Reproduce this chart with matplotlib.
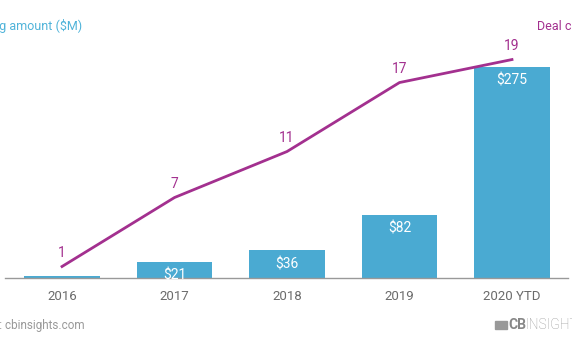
import matplotlib
matplotlib.use("Agg")
import matplotlib.pyplot as plt
from matplotlib.patches import Rectangle

categories = ["2016", "2017", "2018", "2019", "2020 YTD"]
funding = [3, 21, 36, 82, 275]
funding_labels = ["", "$21", "$36", "$82", "$275"]
deals = [1, 7, 11, 17, 19]

BAR = "#4aaad2"
LINE = "#a3308f"
GRAY = "#6b6b6b"

plt.rcParams['font.family'] = ['Roboto', 'DejaVu Sans']

W, H = 572, 364
fig = plt.figure(figsize=(W/100, H/100), dpi=100)

def px(x, y):
    return x / W, 1 - y / H

left, right, top, bottom = 5, 568, 30, 278
ax = fig.add_axes([left/W, 1-bottom/H, (right-left)/W, (bottom-top)/H])
x = list(range(len(categories)))
ax.bar(x, funding, width=0.67, color=BAR, zorder=2)
ax.set_xlim(-0.507, 4.498)
ax.set_ylim(0, 323)
for i, (v, lab) in enumerate(zip(funding, funding_labels)):
    if lab:
        ax.annotate(lab, (i, v), xytext=(0, -5), textcoords='offset points',
                    ha='center', va='top', color='white', fontsize=10, zorder=3)

for s in ['top', 'right', 'left']:
    ax.spines[s].set_visible(False)
ax.spines['bottom'].set_color('#999999')
ax.spines['bottom'].set_linewidth(1)
ax.set_yticks([])
ax.set_xticks(x)
ax.set_xticklabels(categories, color=GRAY, fontsize=9.5)
ax.tick_params(axis='x', length=0, pad=9)

ax2 = ax.twinx()
ax2.set_ylim(0, 21.57)
ax2.plot(x, deals, color=LINE, linewidth=2, zorder=4)
for i, d in enumerate(deals):
    ax2.annotate(str(d), (i, d), xytext=(0, 5), textcoords='offset points',
                 ha='center', va='bottom', color=LINE, fontsize=10)
ax2.set_yticks([])
for s in ['top', 'right', 'left', 'bottom']:
    ax2.spines[s].set_visible(False)

fig.text(*px(82, 26), "Funding amount ($M)", ha='right', va='center', color="#4fb3d9", fontsize=9)
fig.text(*px(537, 26), "Deal count", ha='left', va='center', color=LINE, fontsize=9)
fig.text(*px(85, 326), "Source: cbinsights.com", ha='right', va='center', color="#999999", fontsize=8.5)

# logo
fig.patches.append(Rectangle(px(495, 329), 12/W, 8/H, transform=fig.transFigure,
                             color="#999999", figure=fig))
fig.text(*px(508, 325), "CB", ha='left', va='center', color="#888888", fontsize=10, fontweight='bold')
fig.text(*px(525, 325), "INSIGHTS", ha='left', va='center', color="#999999", fontsize=10, fontweight='light')

fig.savefig("out.png", dpi=100)
